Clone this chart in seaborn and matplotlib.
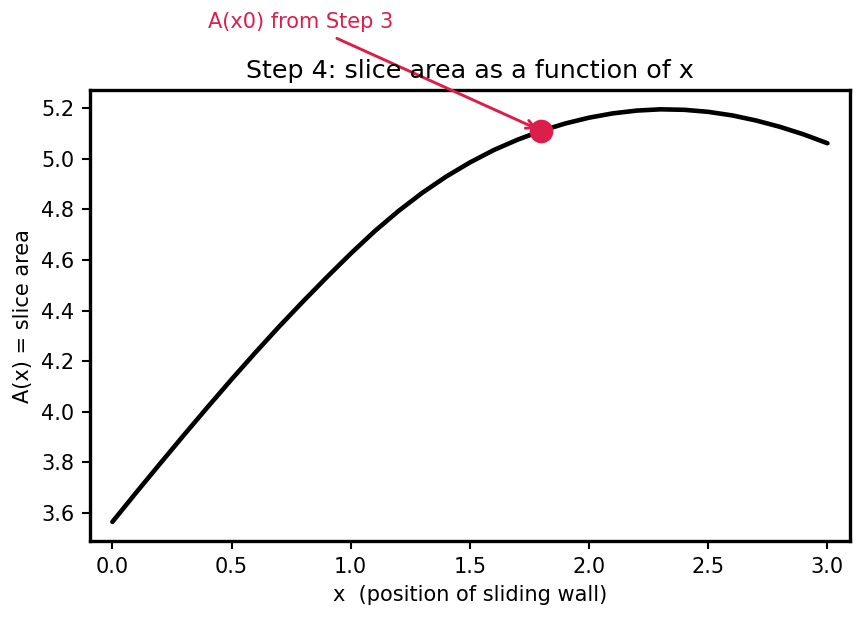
import numpy as np
import pandas as pd
import seaborn as sns
import matplotlib
matplotlib.use("Agg")
import matplotlib.pyplot as plt

# slice area, every 0.1 along x
x_pos = [0.0, 0.1, 0.2, 0.3, 0.4, 0.5, 0.6, 0.7, 0.8, 0.9,
         1.0, 1.1, 1.2, 1.3, 1.4, 1.5, 1.6, 1.7, 1.8, 1.9,
         2.0, 2.1, 2.2, 2.3, 2.4, 2.5, 2.6, 2.7, 2.8, 2.9, 3.0]
area = [3.565, 3.681, 3.795, 3.908, 4.019, 4.128, 4.234, 4.337, 4.436, 4.532,
        4.625, 4.713, 4.793, 4.865, 4.929, 4.985, 5.034, 5.075, 5.110, 5.139,
        5.162, 5.179, 5.190, 5.195, 5.193, 5.185, 5.171, 5.151, 5.126, 5.096,
        5.061]

# point from step 3
x0 = [1.8]
a0 = [5.11]

y_ticks = [3.6, 3.8, 4.0, 4.2, 4.4, 4.6, 4.8, 5.0, 5.2]
x_ticks = [0.0, 0.5, 1.0, 1.5, 2.0, 2.5, 3.0]

accent = "#dc1e4b"

sns.set_style("white")
plt.rcParams['font.family'] = ['DejaVu Sans']
plt.rcParams['text.color'] = 'black'
plt.rcParams['axes.labelcolor'] = 'black'
plt.rcParams['xtick.color'] = 'black'
plt.rcParams['ytick.color'] = 'black'

df = pd.DataFrame({"x": x_pos, "A": area})
pt = pd.DataFrame({"x": x0, "A": a0})

fig, ax = plt.subplots(figsize=(863 / 150, 617 / 150), dpi=150)
sns.lineplot(data=df, x="x", y="A", color="black", linewidth=2.2, ax=ax)
sns.scatterplot(data=pt, x="x", y="A", color=accent, s=110, edgecolor=accent,
                zorder=5, ax=ax)

ax.annotate("A(x0) from Step 3", xy=(x0[0], a0[0]), xytext=(0.79, 5.54),
            ha="center", va="center", color=accent, fontsize=10,
            annotation_clip=False,
            arrowprops=dict(arrowstyle="->", color=accent, lw=1.4))

ax.set_title("Step 4: slice area as a function of x", fontsize=12.2, color="black")
ax.set_xlabel("x  (position of sliding wall)", fontsize=10)
ax.set_ylabel("A(x) = slice area", fontsize=10)
ax.set_xticks(x_ticks)
ax.set_yticks(y_ticks)
ax.set_xlim(-0.095, 3.095)
ax.set_ylim(3.489, 5.271)
ax.tick_params(axis="both", which="both", direction="out", length=4, width=1,
               labelsize=10, bottom=True, left=True, color="black")
for sp in ax.spines.values():
    sp.set_linewidth(1.6)
    sp.set_color("black")

plt.subplots_adjust(left=0.104, right=0.985, top=0.854, bottom=0.123)
plt.savefig("out.png", dpi=150)
